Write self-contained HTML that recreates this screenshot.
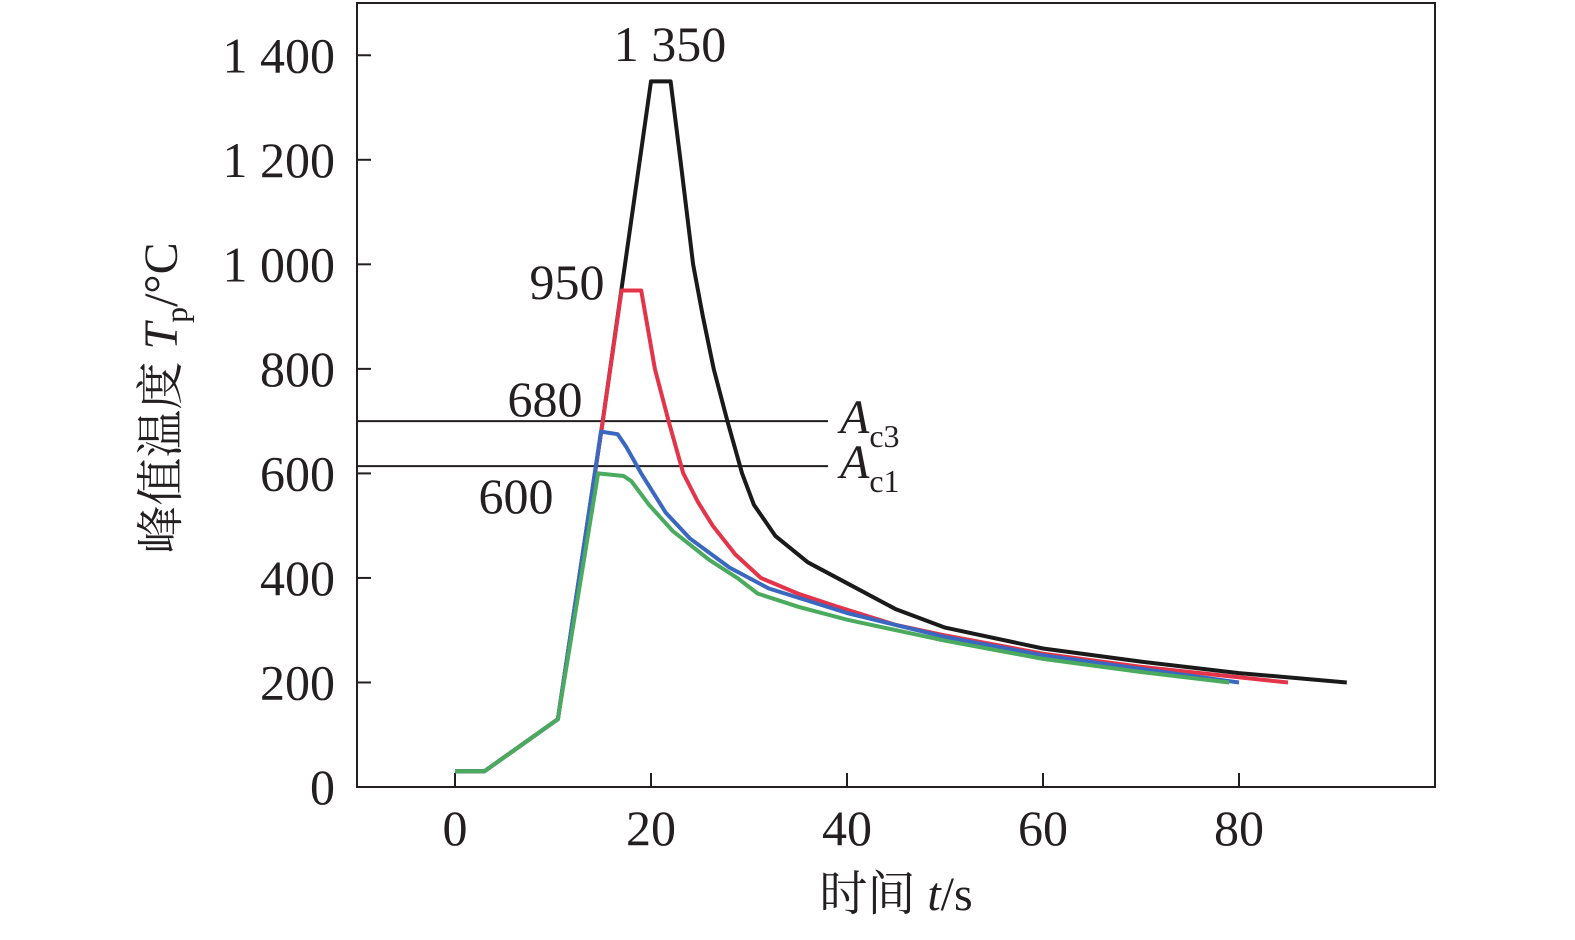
<!DOCTYPE html>
<html><head><meta charset="utf-8"><style>
html,body{margin:0;padding:0;background:#fff;}
svg text{font-family:"Liberation Serif","Noto Serif CJK SC",serif;fill:#231f20;}
</style></head><body>
<svg id="chart" width="1575" height="935" viewBox="0 0 1575 935" xmlns="http://www.w3.org/2000/svg"></svg>
<script>
const xTicks=[0,20,40,60,80];
const yTicks=[0,200,400,600,800,1000,1200,1400];
const yTickLabels=["0","200","400","600","800","1 000","1 200","1 400"];
const ac3=700, ac1=614;
const blackT=[0,3,10.5,15,20,22,23,24.3,25.3,26.4,27.8,29.3,30.5,32.7,36,40,45,50,60,70,80,91];
const blackV=[30,30,130,690,1350,1350,1200,1000,900,800,700,600,540,480,430,390,340,305,265,240,218,200];
const redT=[0,3,10.5,15,17,19,20.4,21.8,23.3,24.8,26.3,28.6,31.2,35,39,45,50,60,70,85];
const redV=[30,30,130,690,950,950,800,700,600,545,500,445,400,370,345,310,290,255,230,200];
const blueT=[0,3,10.5,14.9,16.6,17.5,19,21.5,24,28,32,40,50,60,70,80];
const blueV=[30,30,130,680,675,650,600,525,475,420,380,333,287,252,226,200];
const greenT=[0,3,10.5,14.6,17.2,18,19.8,22.2,25.9,28.8,30.9,35,40,50,60,70,79];
const greenV=[30,30,130,600,595,585,540,490,435,400,370,345,320,280,245,220,200];
const peakLabels=["1 350","950","680","600"];

const L=357,R=1435,T=3,B=787;
const sx=t=>L+(t+10)/110*(R-L);
const sy=v=>B-v/1500*(B-T);
const svg=document.getElementById('chart');
const NS='http://www.w3.org/2000/svg';
function mk(tag,attrs,parent){const e=document.createElementNS(NS,tag);for(const k in attrs)e.setAttribute(k,attrs[k]);(parent||svg).appendChild(e);return e;}

let e=mk('rect',{x:L,y:T,width:R-L,height:B-T,fill:'none',stroke:'#231f20','stroke-width':2});



xTicks.forEach(t=>{
  const x=sx(t);
  let l=mk('line',{x1:x,x2:x,y1:B,y2:B-14,stroke:'#231f20','stroke-width':2});
  
  
  let tx=mk('text',{x:x,y:B+58,'text-anchor':'middle','font-size':50});
  tx.textContent=t;
  
  
});
yTicks.forEach((v,i)=>{
  const y=sy(v);
  let l=mk('line',{x1:L,x2:L+14,y1:y,y2:y,stroke:'#231f20','stroke-width':2});
  
  
  let tx=mk('text',{x:L-22,y:y+17,'text-anchor':'end','font-size':50});
  tx.textContent=yTickLabels[i];
  
  
});

[[ac3,'3','ac3-line'],[ac1,'1','ac1-line']].forEach(([v,s,n])=>{
  const y=sy(v);
  let l=mk('line',{x1:L,x2:828,y1:y,y2:y,stroke:'#231f20','stroke-width':2});
  
  
  let tx=mk('text',{x:840,y:y+12,'font-size':48});
  tx.innerHTML='<tspan font-style="italic">A</tspan><tspan font-size="32" dy="14">c'+s+'</tspan>';
  
  
});

function series(T_,V,color,name){
  const d=T_.map((t,i)=>(i?'L':'M')+sx(t).toFixed(1)+','+sy(V[i]).toFixed(1)).join(' ');
  let p=mk('path',{d:d,fill:'none',stroke:color,'stroke-width':4,'stroke-linejoin':'round'});
  
  
}
series(blackT,blackV,'#1a1a1a','series-1350');
series(redT,redV,'#e3344a','series-950');
series(blueT,blueV,'#3a68c0','series-680');
series(greenT,greenV,'#4aab5e','series-600');

[[670,61],[567,299],[545,416],[516,513]].forEach((p,i)=>{
  let tx=mk('text',{x:p[0],y:p[1],'text-anchor':'middle','font-size':50});
  tx.textContent=peakLabels[i];
  
  
});

let xt=mk('text',{x:896,y:910,'text-anchor':'middle','font-size':48});
xt.innerHTML='时间 <tspan font-style="italic">t</tspan>/s';



let yt=mk('text',{x:0,y:0,'text-anchor':'middle','font-size':48,transform:'translate(177,398) rotate(-90)'});
yt.innerHTML='峰值温度 <tspan font-style="italic">T</tspan><tspan font-size="32" dy="10">p</tspan><tspan dy="-10">/°C</tspan>';


</script>
</body></html>
